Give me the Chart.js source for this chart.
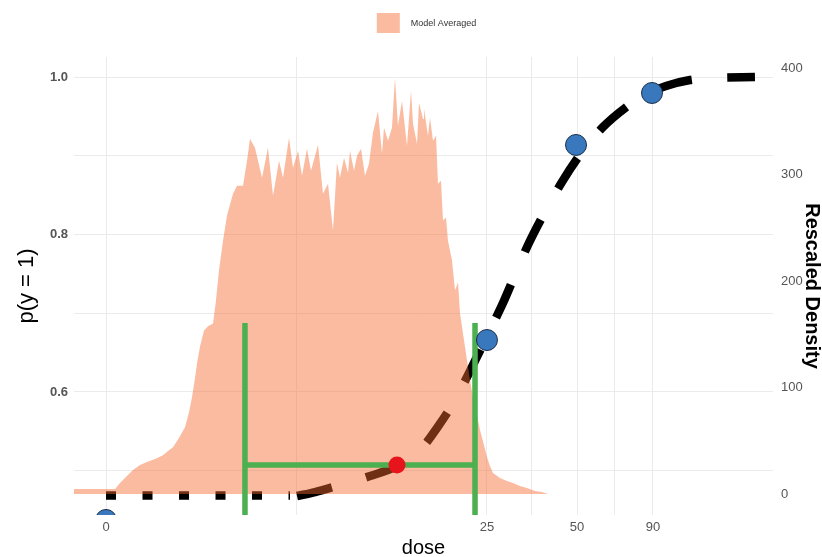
<!DOCTYPE html>
<html>
<head>
<meta charset="utf-8">
<script src="https://cdn.jsdelivr.net/npm/chart.js@4/dist/chart.umd.min.js"></script>
<style>
  html, body { margin: 0; padding: 0; background: #fff; }
  #wrap { width: 822px; height: 557px; }
</style>
</head>
<body>
<div id="wrap"><canvas id="chart"></canvas></div>
<script>
// x axis = transformed dose scale (0..100), labelled with the dose values
const doseTicks = [0, 25, 50, 90];
const doseTickPos = [4.58, 59.08, 71.96, 82.83];
const pTicks = [0.5, 0.6, 0.7, 0.8, 0.9, 1.0];
const pLabels = [0.6, 0.8, 1.0];
const densTicks = [0, 100, 200, 300, 400];

// observed proportions
const obsPos = [4.58, 59.08, 71.82, 82.69];
const obsP = [0.4375, 0.666, 0.9137, 0.9797];

// model averaged curve (flat dotted start + dashed rise)
const flatPos = [4.58, 30.9];
const flatP = [0.4686, 0.4686];
const curvePos = [31.90, 34.48, 38.05, 42.35, 46.21, 49.50, 51.93, 54.51, 57.08, 59.51, 61.37,
  63.09, 64.95, 67.38, 69.81, 72.68, 75.68, 78.83, 81.69, 84.69, 88.13, 91.70, 97.42];
const curveP = [0.4679, 0.4730, 0.4819, 0.4933, 0.5060, 0.5263, 0.5543, 0.5898, 0.6343, 0.6787, 0.7130,
  0.7486, 0.7867, 0.8286, 0.8667, 0.9048, 0.9365, 0.9606, 0.9771, 0.9886, 0.9962, 0.9987, 1.0];

// BMD with its lower / upper bounds
const bmdPos = 46.21, bmdResp = 0.5073;
const bmdlPos = 24.46, bmduPos = 57.37, barTop = 0.6876, barBottom = 0.42;

// rescaled density of the model averaged BMD
const densPos = [0, 5.87, 6.58, 7.58, 8.44, 9.44, 10.44, 11.59, 12.73, 13.45, 14.16, 15.02, 15.88, 16.45,
  16.88, 17.31, 17.60, 18.03, 18.60, 19.17, 19.89, 20.31, 20.74, 21.32, 21.89, 22.75, 23.32, 24.18,
  24.75, 25.18, 25.89, 26.90, 27.75, 28.47, 29.33, 29.90, 30.76, 31.33, 32.05, 32.62, 33.33, 33.91,
  34.91, 35.62, 36.34, 37.05, 37.62, 38.05, 38.63, 39.20, 39.48, 40.06, 40.49, 41.06, 41.63, 42.20,
  42.77, 43.49, 44.06, 44.35, 44.92, 45.49, 45.92, 46.35, 46.92, 47.64, 48.21, 48.50, 49.07, 49.36,
  49.93, 50.07, 50.64, 50.93, 51.36, 51.79, 52.07, 52.50, 52.79, 53.22, 53.50, 54.08, 54.51, 54.94,
  55.22, 55.94, 56.65, 57.08, 57.65, 58.08, 58.65, 59.08, 59.51, 59.94, 60.94, 61.94, 62.80, 63.80,
  64.81, 65.95, 66.95, 67.81];
const densVal = [4.7, 4.7, 10.3, 16.9, 22.5, 27.2, 30.0, 32.8, 36.5, 40.3, 44.0, 52.5, 62.8, 76.8,
  90.9, 108.7, 122.7, 138.6, 153.6, 157.4, 160.2, 181.7, 209.8, 237.9, 261.4, 282.0, 289.5, 289.5,
  312.9, 333.5, 325.1, 297.0, 325.1, 280.1, 312.9, 297.0, 334.4, 306.3, 322.3, 298.8, 324.1, 303.5,
  327.9, 282.0, 291.3, 247.3, 311.0, 297.0, 315.7, 301.6, 322.3, 303.5, 317.6, 324.1, 298.8, 310.1,
  339.1, 359.7, 319.5, 343.8, 331.6, 343.8, 390.6, 345.7, 369.1, 326.9, 378.5, 347.6, 328.8, 367.2,
  352.2, 361.6, 336.3, 353.2, 331.6, 336.3, 291.3, 294.2, 256.7, 259.5, 237.9, 219.2, 191.1, 198.6,
  169.6, 137.7, 106.8, 90.9, 74.0, 60.0, 45.9, 34.7, 26.2, 19.7, 15.0, 12.2, 10.3, 7.5,
  5.6, 2.8, 1.9, 0];

const pts = (xs, ys) => xs.map((x, i) => ({ x: x, y: ys[i] }));

const FONT = "'Liberation Sans', Arial, sans-serif";
const densColor = 'rgba(244, 104, 44, 0.45)';

// legend drawn above the panel, like ggplot's top legend
const topLegend = {
  id: 'topLegend',
  afterDraw(chart) {
    const ctx = chart.ctx;
    const label = 'Model Averaged';
    ctx.save();
    ctx.font = '9px ' + FONT;
    const tw = ctx.measureText(label).width;
    const total = 23 + 11 + tw;
    const cx = (chart.chartArea.left + chart.chartArea.right) / 2 + 3;
    const x0 = cx - total / 2;
    ctx.fillStyle = densColor;
    ctx.fillRect(x0, 13, 23, 20);
    ctx.fillStyle = '#333';
    ctx.textBaseline = 'middle';
    ctx.fillText(label, x0 + 34, 24);
    ctx.restore();
  }
};

const ctx = document.getElementById('chart');

new Chart(ctx, {
  type: 'scatter',
  data: {
    datasets: [
      {
        label: 'BMD',
        data: [{ x: bmdPos, y: bmdResp }],
        pointRadius: 8.5,
        pointBackgroundColor: '#e8141c',
        pointBorderWidth: 0,
        order: 0
      },
      {
        label: 'Observed',
        data: pts(obsPos, obsP),
        pointRadius: 10.5,
        pointBackgroundColor: '#3a78bd',
        pointBorderColor: '#1b2f4a',
        pointBorderWidth: 1,
        order: 1
      },
      {
        label: 'Interval',
        data: [
          { x: bmdlPos, y: barTop }, { x: bmdlPos, y: barBottom }, { x: bmdlPos, y: null },
          { x: bmdlPos, y: bmdResp }, { x: bmduPos, y: bmdResp }, { x: bmduPos, y: null },
          { x: bmduPos, y: barTop }, { x: bmduPos, y: barBottom }
        ],
        showLine: true,
        borderColor: '#4caf50',
        borderWidth: 5.5,
        borderCapStyle: 'butt',
        pointRadius: 0,
        order: 2
      },
      {
        label: 'Model Averaged',
        type: 'line',
        yAxisID: 'y2',
        data: pts(densPos, densVal),
        fill: 'origin',
        backgroundColor: densColor,
        borderWidth: 0,
        pointRadius: 0,
        tension: 0,
        order: 3
      },
      {
        label: 'Curve',
        data: pts(curvePos, curveP),
        showLine: true,
        borderColor: '#000',
        borderWidth: 8.5,
        borderDash: [36, 35.5],
        borderCapStyle: 'butt',
        cubicInterpolationMode: 'monotone',
        pointRadius: 0,
        order: 4
      },
      {
        label: 'Curve start',
        data: pts(flatPos, flatP),
        showLine: true,
        borderColor: '#000',
        borderWidth: 8.5,
        borderDash: [10, 26.5],
        borderCapStyle: 'butt',
        pointRadius: 0,
        order: 5
      }
    ]
  },
  options: {
    responsive: true,
    maintainAspectRatio: false,
    animation: false,
    layout: { padding: { top: 57, left: 0, right: 0, bottom: 0 } },
    plugins: {
      legend: { display: false },
      tooltip: { enabled: false }
    },
    scales: {
      x: {
        type: 'linear',
        min: 0,
        max: 100,
        border: { display: false },
        grid: { color: '#ebebeb', lineWidth: 1, drawTicks: false },
        afterBuildTicks: s => {
          const minors = doseTickPos.slice(1).map((p, i) => (p + doseTickPos[i]) / 2);
          s.ticks = doseTickPos.concat(minors).sort((a, b) => a - b).map(v => ({ value: v }));
        },
        afterFit: s => { s.height = 42; },
        ticks: {
          autoSkip: false,
          maxRotation: 0,
          padding: 5,
          color: '#555',
          font: { family: FONT, size: 13 },
          callback: v => {
            const i = doseTickPos.indexOf(v);
            return i >= 0 ? String(doseTicks[i]) : '';
          }
        },
        title: {
          display: true,
          text: 'dose',
          color: '#000',
          padding: { top: 0, bottom: 0 },
          font: { family: FONT, size: 20, lineHeight: 0.9 }
        }
      },
      y: {
        type: 'linear',
        position: 'left',
        min: 0.4438,
        max: 1.0254,
        border: { display: false },
        grid: { color: '#ebebeb', lineWidth: 1, drawTicks: false },
        afterBuildTicks: s => { s.ticks = pTicks.map(v => ({ value: v })); },
        afterFit: s => { s.width = 74; },
        ticks: {
          autoSkip: false,
          padding: 6,
          color: '#555',
          font: { family: FONT, size: 13, weight: 'bold' },
          callback: v => pLabels.some(m => Math.abs(m - v) < 1e-9) ? v.toFixed(1) : ''
        },
        title: {
          display: true,
          text: 'p(y = 1)',
          color: '#000',
          padding: { top: 14, bottom: 0 },
          font: { family: FONT, size: 22 }
        }
      },
      y2: {
        type: 'linear',
        position: 'right',
        min: -19.7,
        max: 410.3,
        border: { display: false },
        grid: { display: false, drawOnChartArea: false, drawTicks: false },
        afterBuildTicks: s => { s.ticks = densTicks.map(v => ({ value: v })); },
        afterFit: s => { s.width = 49; },
        ticks: {
          autoSkip: false,
          padding: 8,
          color: '#555',
          font: { family: FONT, size: 13 }
        },
        title: {
          display: true,
          text: 'Rescaled Density',
          color: '#000',
          padding: { top: 0, bottom: 0 },
          font: { family: FONT, size: 20, weight: 'bold', lineHeight: 1 }
        }
      }
    }
  },
  plugins: [topLegend]
});
</script>
</body>
</html>
